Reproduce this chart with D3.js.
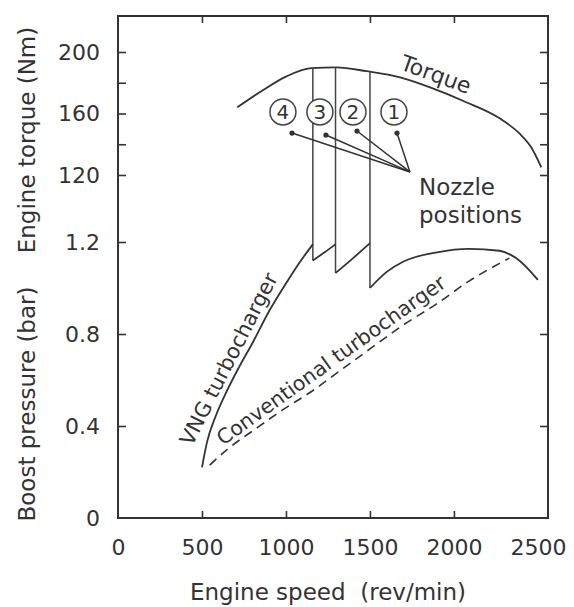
<!DOCTYPE html>
<html>
<head>
<meta charset="utf-8">
<script src="https://cdn.jsdelivr.net/npm/d3@7"></script>
<style>
  body { margin: 0; background: #fff; }
  text { font-family: "DejaVu Sans", sans-serif; fill: #333; }
</style>
</head>
<body>
<div id="chart"></div>
<script>
// Torque curve (Nm) vs engine speed (rev/min)
const torqueSpeed = [710, 860, 1000, 1150, 1300, 1480, 1680, 1870, 2070, 2270, 2390, 2460, 2520];
const torqueVals  = [164, 175, 184, 189.5, 190, 187.5, 183.5, 176.5, 167.5, 157, 147, 138, 125];

// VNG boost pressure (bar), split at the nozzle switch points
const vngSegments = [
  { speed: [500, 530, 580, 640, 720, 800, 900, 1000, 1080, 1160],
    boost: [0.22, 0.33, 0.44, 0.54, 0.655, 0.76, 0.90, 1.02, 1.11, 1.19] },
  { speed: [1160, 1230, 1295], boost: [1.12, 1.155, 1.19] },
  { speed: [1295, 1400, 1500], boost: [1.065, 1.13, 1.195] },
  { speed: [1500, 1600, 1700, 1900, 2090, 2270, 2370, 2500],
    boost: [1.0, 1.07, 1.115, 1.155, 1.17, 1.162, 1.13, 1.035] }
];

// Conventional turbocharger boost pressure (bar)
const convSpeed = [546, 653, 814, 980, 1152, 1330, 1500, 1700, 1895, 2090, 2330];
const convBoost = [0.23, 0.30, 0.385, 0.47, 0.55, 0.645, 0.735, 0.84, 0.93, 1.03, 1.13];

// Nozzle switch lines: speed, torque at top, boost at bottom
const switchSpeed = [1160, 1295, 1500];
const switchTorque = [189.5, 190, 187.5];
const switchBoost = [1.12, 1.065, 1.0];

// Nozzle position markers
const nozzleLabels = ["4", "3", "2", "1"];
const nozzleLabelSpeed = [982, 1202, 1399, 1643];
const nozzleLabelTorque = 161;
const nozzleDotSpeed = [1036, 1238, 1423, 1661];
const nozzleDotTorque = [147.3, 146, 148.6, 147.3];
const nozzleFocus = [1738, 122];

// Ticks
const xTicks = [500, 1000, 1500, 2000];
const xLabels = [0, 500, 1000, 1500, 2000, 2500];
const torqueTicks = [120, 140, 160, 180, 200];
const torqueLabels = [120, 160, 200];
const boostTicks = [0.4, 0.8, 1.2];
const boostLabels = [0, 0.4, 0.8, 1.2];

const W = 574, H = 607;
const frameL = 118, frameR = 548, frameT = 16, frameB = 518;

const svg = d3.select("#chart").append("svg")
  .attr("width", W)
  .attr("height", H);

const x = d3.scaleLinear().domain([0, 2560]).range([frameL, frameR]);
const yT = d3.scaleLinear().domain([120, 200]).range([175, 52]);
const yB = d3.scaleLinear().domain([0, 1.2]).range([518, 242]);

const ink = "#333";

// tick marks (inward) on all four sides
function ticks(axis, tx, ty) {
  svg.append("g")
    .attr("transform", `translate(${tx},${ty})`)
    .call(axis)
    .call(g => g.select(".domain").remove())
    .call(g => g.selectAll("line").attr("stroke", ink).attr("stroke-width", 1.6));
}
ticks(d3.axisLeft(yT).tickValues(torqueTicks).tickSize(-8).tickFormat(""), frameL, 0);
ticks(d3.axisLeft(yB).tickValues(boostTicks).tickSize(-8).tickFormat(""), frameL, 0);
ticks(d3.axisRight(yT).tickValues(torqueTicks).tickSize(-8).tickFormat(""), frameR, 0);
ticks(d3.axisRight(yB).tickValues(boostTicks).tickSize(-8).tickFormat(""), frameR, 0);
ticks(d3.axisBottom(x).tickValues(xTicks).tickSize(-7).tickFormat(""), 0, frameB);
ticks(d3.axisTop(x).tickValues(xTicks).tickSize(-7).tickFormat(""), 0, frameT);

// tick labels
function labels(axis, tx, ty) {
  svg.append("g")
    .attr("transform", `translate(${tx},${ty})`)
    .call(axis)
    .call(g => g.select(".domain").remove())
    .call(g => g.selectAll("line").remove())
    .call(g => g.selectAll("text")
      .style("font-family", "DejaVu Sans, sans-serif")
      .style("font-size", "22px")
      .attr("fill", "#333"));
}
labels(d3.axisLeft(yT).tickValues(torqueLabels).tickSize(0).tickPadding(18), frameL, 0);
labels(d3.axisLeft(yB).tickValues(boostLabels).tickSize(0).tickPadding(18)
  .tickFormat(d => d === 0 ? "0" : d3.format(".1f")(d)), frameL, 0);
labels(d3.axisBottom(x).tickValues(xLabels).tickSize(0).tickPadding(21)
  .tickFormat(d => d), 0, frameB);

// frame
svg.append("rect")
  .attr("x", frameL).attr("y", frameT)
  .attr("width", frameR - frameL).attr("height", frameB - frameT)
  .attr("fill", "none")
  .attr("stroke", ink)
  .attr("stroke-width", 2);

// axis titles
svg.append("text")
  .attr("transform", `translate(35,140) rotate(-90)`)
  .attr("text-anchor", "middle")
  .style("font-size", "23px")
  .text("Engine torque (Nm)");

svg.append("text")
  .attr("transform", `translate(35,404) rotate(-90)`)
  .attr("text-anchor", "middle")
  .style("font-size", "23px")
  .text("Boost pressure (bar)");

svg.append("text")
  .attr("x", 328).attr("y", 600)
  .attr("text-anchor", "middle")
  .style("font-size", "23px")
  .style("white-space", "pre")
  .text("Engine speed  (rev/min)");

// torque curve
const torqueData = torqueSpeed.map((s, i) => [s, torqueVals[i]]);
svg.append("path")
  .datum(torqueData)
  .attr("fill", "none")
  .attr("stroke", ink)
  .attr("stroke-width", 1.8)
  .attr("d", d3.line().x(d => x(d[0])).y(d => yT(d[1])).curve(d3.curveMonotoneX));

// nozzle switch verticals
switchSpeed.forEach((s, i) => {
  svg.append("line")
    .attr("x1", x(s)).attr("x2", x(s))
    .attr("y1", yT(switchTorque[i]))
    .attr("y2", yB(switchBoost[i]))
    .attr("stroke", "#444")
    .attr("stroke-width", 1.5);
});

// VNG boost curve
const boostLine = d3.line().x(d => x(d[0])).y(d => yB(d[1])).curve(d3.curveMonotoneX);
vngSegments.forEach(seg => {
  const pts = seg.speed.map((s, j) => [s, seg.boost[j]]);
  svg.append("path")
    .datum(pts)
    .attr("fill", "none")
    .attr("stroke", ink)
    .attr("stroke-width", 1.8)
    .attr("d", boostLine);
});

// conventional turbocharger (dashed)
svg.append("path")
  .datum(convSpeed.map((s, i) => [s, convBoost[i]]))
  .attr("fill", "none")
  .attr("stroke", ink)
  .attr("stroke-width", 1.6)
  .attr("stroke-dasharray", "9,6")
  .attr("d", boostLine);

// nozzle position markers
const fx = x(nozzleFocus[0]), fy = yT(nozzleFocus[1]);
nozzleDotSpeed.forEach((s, i) => {
  svg.append("line")
    .attr("x1", x(s)).attr("y1", yT(nozzleDotTorque[i]))
    .attr("x2", fx).attr("y2", fy)
    .attr("stroke", ink)
    .attr("stroke-width", 1.5);
  svg.append("circle")
    .attr("cx", x(s)).attr("cy", yT(nozzleDotTorque[i]))
    .attr("r", 2.6)
    .attr("fill", ink);
});

nozzleLabels.forEach((lab, i) => {
  const cx = x(nozzleLabelSpeed[i]), cy = yT(nozzleLabelTorque);
  svg.append("circle")
    .attr("cx", cx).attr("cy", cy)
    .attr("r", 13)
    .attr("fill", "#fff")
    .attr("stroke", "#444")
    .attr("stroke-width", 1.5);
  svg.append("text")
    .attr("x", cx).attr("y", cy)
    .attr("text-anchor", "middle")
    .attr("dy", "0.36em")
    .style("font-size", "20px")
    .text(lab);
});

// curve labels
svg.append("text")
  .attr("transform", "translate(399,69) rotate(20)")
  .style("font-size", "22px")
  .text("Torque");

svg.append("text")
  .attr("x", 419).attr("y", 195)
  .style("font-size", "23px")
  .text("Nozzle");
svg.append("text")
  .attr("x", 419).attr("y", 223)
  .style("font-size", "23px")
  .text("positions");

svg.append("text")
  .attr("transform", "translate(192,447) rotate(-63)")
  .style("font-size", "21px")
  .text("VNG turbocharger");

svg.append("text")
  .attr("transform", "translate(223,446) rotate(-35.5)")
  .style("font-size", "20.5px")
  .text("Conventional turbocharger");
</script>
</body>
</html>
